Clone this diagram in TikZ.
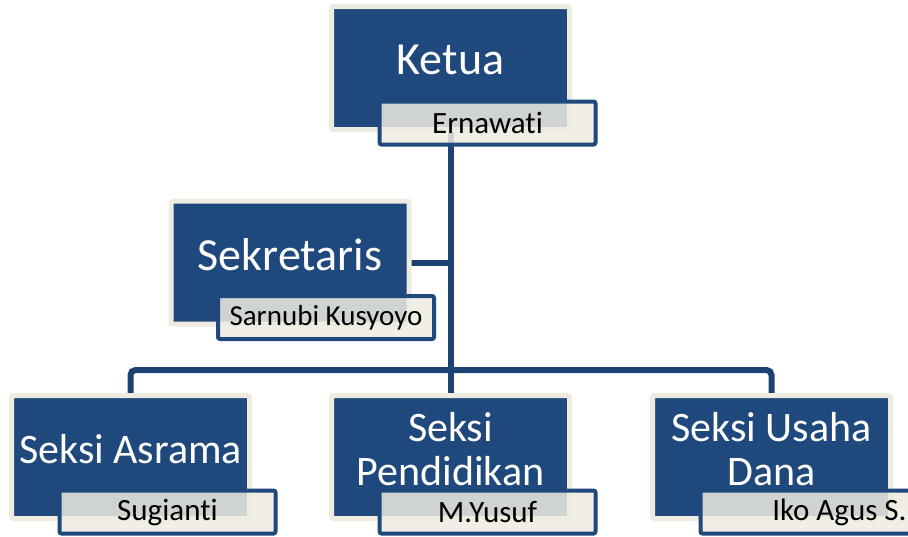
\documentclass[tikz,border=0pt]{standalone}
\usepackage{fontspec}
\setmainfont[Ligatures=NoCommon]{Carlito}
\usetikzlibrary{positioning,backgrounds}
\definecolor{orgblue}{HTML}{1F497D}
\definecolor{orgline}{HTML}{1C4274}
\definecolor{orgcream}{HTML}{EEECE1}

\begin{document}
\begin{tikzpicture}
    [x=1pt, y=-1pt,
    jabatan/.style={rectangle, fill=orgblue, draw=orgcream, line width=5pt,
      rounded corners=2pt, minimum width=238pt, minimum height=123pt},
    judul/.style={text=white, align=center, inner sep=0pt,
      font=\fontsize{46}{48}\selectfont},
    judulkecil/.style={judul, font=\fontsize{42}{44}\selectfont},
    nama/.style={rectangle, draw=orgblue, fill=orgcream, fill opacity=0.85,
      text opacity=1, line width=4pt, rounded corners=2pt, inner sep=0pt,
      minimum width=216pt, minimum height=43pt, text=black,
      font=\fontsize{31}{33}\selectfont},
    garis/.style={draw=orgline, line width=6pt, rounded corners=5pt}]
    \useasboundingbox (0,0) rectangle (908,536);
    % pengurus inti
    \node [jabatan] (ketua) at (450.5,68) {};
    \node [judul] (ketua-t) at ([yshift=8pt]ketua.center) {Ketua};
    \node [nama, anchor=south east] (ernawati)
      at ([shift={(25.5,14.5)}]ketua.south east) {Ernawati};
    \node [jabatan] (sekretaris) at (290,262.5) {};
    \node [judul] (sekretaris-t) at ([yshift=8pt]sekretaris.center) {Sekretaris};
    \node [nama, anchor=south east, font=\fontsize{29}{31}\selectfont] (sarnubi)
      at ([shift={(24.5,14.5)}]sekretaris.south east) {Sarnubi Kusyoyo};
    % seksi-seksi
    \node [jabatan, below=261pt of ketua] (pendidikan) {};
    \node [jabatan, left=77pt of pendidikan] (asrama) {};
    \node [jabatan, right=78pt of pendidikan] (usaha) {};
    \node [judulkecil] (asrama-t) at ([yshift=8pt]asrama.center) {Seksi Asrama};
    \node [judulkecil] (pendidikan-t) at ([yshift=8pt]pendidikan.center)
      {Seksi\\Pendidikan};
    \node [judulkecil] (usaha-t) at ([yshift=8pt]usaha.center) {Seksi Usaha\\Dana};
    \node [nama, anchor=south east] (sugianti)
      at ([shift={(25.5,14.5)}]asrama.south east) {Sugianti};
    \node [nama, anchor=south east] (yusuf)
      at ([shift={(25.5,14.5)}]pendidikan.south east) {M.Yusuf};
    \node [nama, anchor=south east] (iko)
      at ([shift={(25.5,14.5)}]usaha.south east) {\makebox[196pt][r]{Iko Agus S.}};
    \coordinate (cabang) at ([yshift=23pt]pendidikan.north);
  \begin{pgfonlayer}{background}
    \draw [garis] (ketua.center) -- (pendidikan.center);
    \draw [garis] (sekretaris.center) -- (sekretaris.center -| ketua.center);
    \draw [garis] (asrama.center) |- (cabang) -| (usaha.center);
  \end{pgfonlayer}
\end{tikzpicture}
\end{document}
